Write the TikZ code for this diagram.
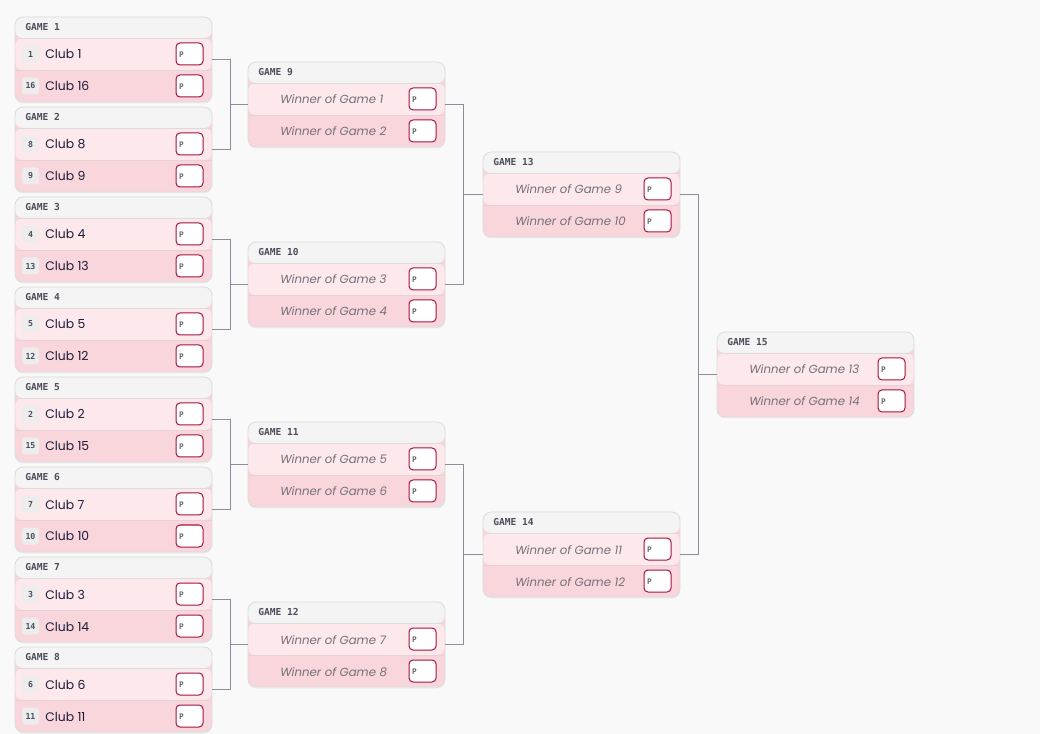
\documentclass[tikz,border=0pt]{standalone}
\usepackage{fontspec}
\setmainfont{Poppins}
\newfontfamily\monof{DejaVu Sans Mono}
\usetikzlibrary{calc}
\definecolor{bgc}{HTML}{F9F9F9}
\definecolor{cardborder}{HTML}{DCDCDC}
\definecolor{hdrfill}{HTML}{F4F4F4}
\definecolor{rowa}{HTML}{FDE8EC}
\definecolor{rowb}{HTML}{F8D6DC}
\definecolor{rowline}{HTML}{E6D2D6}
\definecolor{hdrtxt}{HTML}{4D4D5C}
\definecolor{clubtxt}{HTML}{1B1B3A}
\definecolor{wintxt}{HTML}{757078}
\definecolor{pborder}{HTML}{A5123F}
\definecolor{conn}{HTML}{8C8C9C}
\definecolor{seedfill}{HTML}{EDEDED}
\tikzset{
  cardbox/.style={rectangle, rounded corners=6pt, draw=cardborder, line width=0.6pt,
    minimum width=147.75pt, minimum height=63.75pt, inner sep=0pt,
    path picture={
      \fill[rowb] (path picture bounding box.north west) rectangle (path picture bounding box.south east);
      \fill[hdrfill] (path picture bounding box.north west) rectangle ($(path picture bounding box.north east)+(0,21)$);
      \fill[rowa] ($(path picture bounding box.north west)+(0,21)$) rectangle ($(path picture bounding box.north east)+(0,53)$);
      \draw[cardborder, line width=0.6pt] ($(path picture bounding box.north west)+(0,21)$) -- ($(path picture bounding box.north east)+(0,21)$);
      \draw[rowline, line width=0.6pt] ($(path picture bounding box.north west)+(0,53)$) -- ($(path picture bounding box.north east)+(0,53)$);
    }},
  hdrtext/.style={inner sep=0pt, anchor=base west, text=hdrtxt, font=\monof\bfseries\fontsize{7.2pt}{8pt}\selectfont},
  pboxst/.style={rectangle, rounded corners=3pt, draw=pborder, line width=0.75pt, fill=white,
    minimum width=20.25pt, minimum height=16.5pt, inner sep=0pt},
  ptext/.style={inner sep=0pt, anchor=west, text=black!60, font=\monof\bfseries\fontsize{5.8pt}{6pt}\selectfont},
  seedst/.style={rectangle, rounded corners=2.25pt, fill=seedfill, minimum size=12.75pt, inner sep=0pt,
    text=hdrtxt, font=\monof\bfseries\fontsize{6.2pt}{7pt}\selectfont},
  clubst/.style={inner sep=0pt, anchor=base west, text=clubtxt, font=\fontsize{9.3pt}{11pt}\selectfont},
  winst/.style={inner sep=0pt, anchor=base west, text=wintxt, font=\itshape\fontsize{8.8pt}{11pt}\selectfont},
  connst/.style={draw=conn, line width=0.75pt},
  shadowst/.style={fill=black, opacity=0.05, rounded corners=6pt}
}
% #1 name, #2 left, #3 top, #4 title
\newcommand\cardframe[4]{%
  \fill[shadowst] (#2,{#3+1.5}) rectangle ({#2+197},{#3+86.5});
  \node[cardbox] (#1) at ({#2+98.5},{#3+42.5}) {};
  \node[hdrtext] (#1-t) at ({#2+10},{#3+13.3}) {#4};
  \node[pboxst] (#1-pa) at ({#2+174.5},{#3+37}) {};
  \node[ptext] (#1-pat) at ($(#1-pa.west)+(3.3,0.8)$) {P};
  \node[pboxst] (#1-pb) at ({#2+174.5},{#3+69}) {};
  \node[ptext] (#1-pbt) at ($(#1-pb.west)+(3.3,0.8)$) {P};
}
% #1 name, #2 left, #3 top, #4 title, #5 seedA, #6 clubA, #7 seedB, #8 clubB
\newcommand\clubcard[8]{%
  \cardframe{#1}{#2}{#3}{#4}
  \node[seedst] (#1-sa) at ({#2+15.5},{#3+37}) {#5};
  \node[clubst] (#1-ca) at ({#2+30},{#3+42}) {#6};
  \node[seedst] (#1-sb) at ({#2+15.5},{#3+69}) {#7};
  \node[clubst] (#1-cb) at ({#2+30},{#3+74}) {#8};
}
% #1 name, #2 left, #3 top, #4 title, #5 textA, #6 textB
\newcommand\wincard[6]{%
  \cardframe{#1}{#2}{#3}{#4}
  \node[winst] (#1-wa) at ({#2+32},{#3+42}) {#5};
  \node[winst] (#1-wb) at ({#2+32},{#3+74}) {#6};
}
\begin{document}
\begin{tikzpicture}[x=0.75pt,y=-0.75pt]
\useasboundingbox (0,0) rectangle (1040,734);
\fill[bgc] (0,0) rectangle (1040,734);

\clubcard{g1}{15}{17}{GAME 1}{1}{Club 1}{16}{Club 16}
\clubcard{g2}{15}{107}{GAME 2}{8}{Club 8}{9}{Club 9}
\clubcard{g3}{15}{197}{GAME 3}{4}{Club 4}{13}{Club 13}
\clubcard{g4}{15}{287}{GAME 4}{5}{Club 5}{12}{Club 12}
\clubcard{g5}{15}{377}{GAME 5}{2}{Club 2}{15}{Club 15}
\clubcard{g6}{15}{467}{GAME 6}{7}{Club 7}{10}{Club 10}
\clubcard{g7}{15}{557}{GAME 7}{3}{Club 3}{14}{Club 14}
\clubcard{g8}{15}{647}{GAME 8}{6}{Club 6}{11}{Club 11}

\wincard{g9}{248}{62}{GAME 9}{Winner of Game 1}{Winner of Game 2}
\wincard{g10}{248}{242}{GAME 10}{Winner of Game 3}{Winner of Game 4}
\wincard{g11}{248}{422}{GAME 11}{Winner of Game 5}{Winner of Game 6}
\wincard{g12}{248}{602}{GAME 12}{Winner of Game 7}{Winner of Game 8}

\wincard{g13}{483}{152}{GAME 13}{Winner of Game 9}{Winner of Game 10}
\wincard{g14}{483}{512}{GAME 14}{Winner of Game 11}{Winner of Game 12}

\wincard{g15}{717}{332}{GAME 15}{Winner of Game 13}{Winner of Game 14}

\foreach \a/\b/\c in {g1/g2/g9, g3/g4/g10, g5/g6/g11, g7/g8/g12, g9/g10/g13, g11/g12/g14, g13/g14/g15}{
  \draw[connst] (\a.east) -- ++(18,0) |- (\c.west);
  \draw[connst] (\b.east) -- ++(18,0) |- (\c.west);
}
\end{tikzpicture}
\end{document}
